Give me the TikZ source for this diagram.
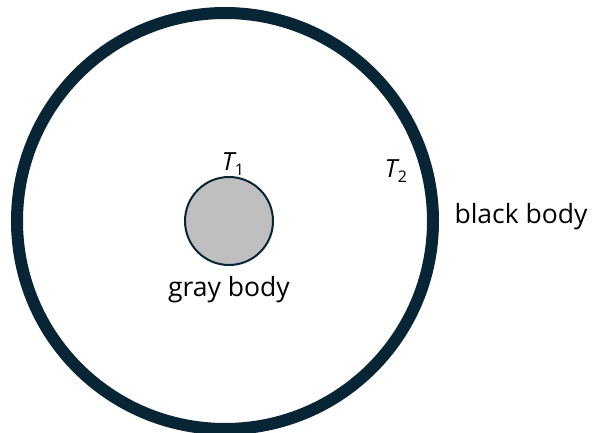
\documentclass[tikz,border=0pt]{standalone}
\usepackage{fontspec}
\setmainfont{Open Sans}
\usetikzlibrary{positioning}
\definecolor{bodyline}{HTML}{082536}
\definecolor{bodyfill}{HTML}{BFBFBF}
\tikzset{pic/.style={
  x=1pt,y=1pt,line join=round,line cap=round
}}
\tikzset{lbl/.style={font=\fontsize{26.5}{26.5}\selectfont,inner sep=0pt}}
\tikzset{tlbl/.style={font=\fontsize{25}{25}\selectfont,inner sep=0pt}}
\newcommand{\temp}[1]{{\itshape T}\kern0.5pt\raisebox{-0.35ex}{\fontsize{16}{16}\selectfont #1}}

\begin{document}
\begin{tikzpicture}[pic]
  \useasboundingbox (0,0) rectangle (592,432);
  \coordinate (O) at (225,211);
  \coordinate (S) at (229,211);

  \draw[bodyline,line width=12pt] (O) circle (208);
  \node[circle,draw=bodyline,fill=bodyfill,line width=2pt,minimum size=88pt,inner sep=0pt] (gray) at (S) {};

  \node[tlbl] (t1) at (233,268) {\temp{1}};
  \node[tlbl] (t2) at (396,261) {\temp{2}};
  \node[lbl] (black) at (521,215) {black body};
  \node[lbl] (graylabel) at (229,142) {gray body};
\end{tikzpicture}
\end{document}
